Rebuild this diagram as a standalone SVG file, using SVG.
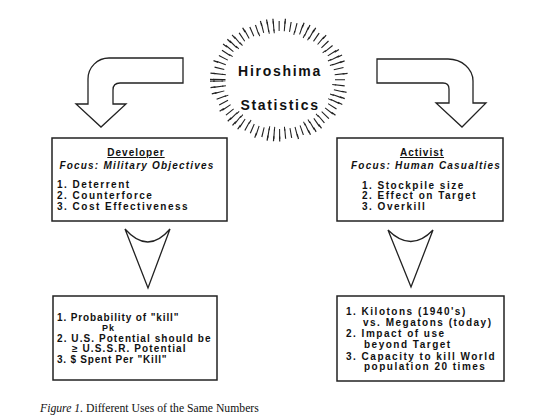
<svg xmlns="http://www.w3.org/2000/svg" width="540" height="416" viewBox="0 0 540 416">
<style>
.bg{fill:#ffffff}
.box{fill:none;stroke:#222;stroke-width:1.5}
.arrow{fill:#fff;stroke:#222;stroke-width:1.3;stroke-linejoin:miter}
.ray{fill:none;stroke:#222}
.t{font-family:"Liberation Sans",Arial,sans-serif;font-weight:bold;font-size:10px;fill:#111;letter-spacing:1.5px}
.h{font-family:"Liberation Sans",Arial,sans-serif;font-weight:bold;font-size:10px;fill:#111;letter-spacing:1px;text-decoration:underline}
.f{font-family:"Liberation Sans",Arial,sans-serif;font-weight:bold;font-style:italic;font-size:10px;fill:#111;letter-spacing:1.2px}
.big{font-family:"Liberation Sans",Arial,sans-serif;font-weight:bold;font-size:14px;fill:#111;letter-spacing:1.7px}
.cap{font-family:"Liberation Serif","Times New Roman",serif;font-size:11.7px;fill:#111}
</style>
<rect class="bg" x="0" y="0" width="540" height="416"/>

<g id="hiroshima">
  <path class="ray" stroke-width="10" pathLength="360" stroke-dasharray="1.1 4.5" d="M218,80 A61,54 0 1,1 340,80 A61,54 0 1,1 218,80 Z"/>
  <path class="ray" stroke-width="5" pathLength="360" stroke-dasharray="1.1 4.5 1.1 10.1 1.1 15.7 1.1 4.5" d="M212.5,80 A66.5,59 0 1,1 345.5,80 A66.5,59 0 1,1 212.5,80 Z"/>
  <path class="ray" stroke-width="4" pathLength="360" stroke-dasharray="1.1 10.1 1.1 4.5 1.1 21.3" stroke-dashoffset="11.2" d="M223.5,80 A55.5,49 0 1,1 334.5,80 A55.5,49 0 1,1 223.5,80 Z"/>
  <text class="big" x="280" y="76" text-anchor="middle">Hiroshima</text>
  <text class="big" x="280" y="110" text-anchor="middle">Statistics</text>
</g>

<g id="connectors">
  <path class="arrow" d="M183,58 L183,83 L120,83 Q113,83 113,90 L113,104 L126,104 L101,127 L76,104 L88,104 L88,79 A21,21 0 0,1 109,58 Z"/>
  <path class="arrow" d="M377,59 L448,59 A25,22 0 0,1 473,81 L473,103 L486,103 L462,127 L436,103 L449,103 L449,89 Q449,83 443,83 L377,83 Z"/>
  <path class="arrow" d="M125,229 Q148,255 170,229 L148,288 Z"/>
  <path class="arrow" d="M388,230 Q411,253 433,230 L411,287 Z"/>
</g>

<g id="developer">
  <rect class="box" x="52" y="138" width="175" height="83"/>
  <text class="h" x="136" y="156" text-anchor="middle">Developer</text>
  <text class="f" x="137" y="168.5" text-anchor="middle">Focus: Military Objectives</text>
  <text class="t" x="57" y="188">1. Deterrent</text>
  <text class="t" x="57" y="198.5">2. Counterforce</text>
  <text class="t" x="57" y="210">3. Cost Effectiveness</text>
</g>

<g id="activist">
  <rect class="box" x="337" y="138" width="166" height="83"/>
  <text class="h" x="422" y="156" text-anchor="middle">Activist</text>
  <text class="f" x="426" y="168.5" text-anchor="middle">Focus: Human Casualties</text>
  <text class="t" x="362" y="188.5">1. Stockpile size</text>
  <text class="t" x="362" y="199">2. Effect on Target</text>
  <text class="t" x="362" y="210">3. Overkill</text>
</g>

<g id="developer-numbers">
  <rect class="box" x="53" y="296" width="164" height="84"/>
  <text class="t" x="57" y="321" textLength="123" lengthAdjust="spacing">1. Probability of "kill"</text>
  <text class="t" x="102" y="331" style="font-size:9px;letter-spacing:1px">Pk</text>
  <text class="t" x="57" y="342" textLength="155" lengthAdjust="spacing">2. U.S. Potential should be</text>
  <text class="t" x="72" y="352" textLength="115" lengthAdjust="spacing">≥ U.S.S.R. Potential</text>
  <text class="t" x="57" y="362.5" textLength="111" lengthAdjust="spacing">3. $ Spent Per "Kill"</text>
</g>

<g id="activist-numbers">
  <rect class="box" x="337" y="296" width="167" height="85"/>
  <text class="t" x="346" y="315">1. Kilotons (1940's)</text>
  <text class="t" x="363" y="326">vs. Megatons (today)</text>
  <text class="t" x="346" y="337">2. Impact of use</text>
  <text class="t" x="364" y="347.5">beyond Target</text>
  <text class="t" x="346" y="359.5">3. Capacity to kill World</text>
  <text class="t" x="364" y="370">population 20 times</text>
</g>

<text class="cap" x="40" y="412"><tspan font-style="italic">Figure 1.</tspan>  Different Uses of the Same Numbers</text>
</svg>
